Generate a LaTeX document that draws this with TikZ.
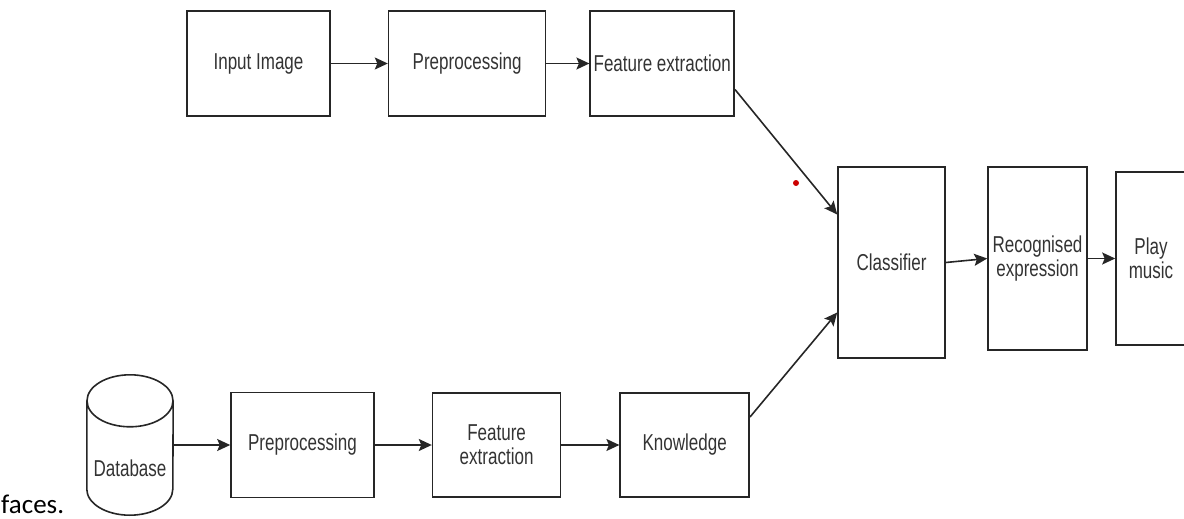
\documentclass[tikz,border=0pt]{standalone}
\usepackage{fontspec}
\setmainfont{Liberation Sans}[FakeStretch=0.74]
\newfontfamily\capfont{Carlito}
\usepackage{xcolor}
\usepackage{tikz}
\usetikzlibrary{shapes.geometric, arrows.meta, positioning, calc}

\newcommand{\lbl}{\fontsize{23}{24}\selectfont}

\begin{document}
\begin{tikzpicture}[
    x=1pt, y=-1pt,
    block/.style={rectangle, draw=black!85, line width=1.6pt, inner sep=0pt, align=center, text=black!80, font=\lbl},
    flow/.style={-{Stealth[length=13pt, width=12pt, inset=2.5pt]}, line width=1.6pt, draw=black!85},
]
\useasboundingbox (0,0) rectangle (1184,519);

% Upper row
\node (inimg) [block, minimum width=143pt, minimum height=105pt] at (258.5,63.5) {Input Image};
\node (preA) [block, right=57pt of inimg, minimum width=157pt, minimum height=105pt] {Preprocessing};
\node (featA) [block, right=43pt of preA, minimum width=144pt, minimum height=105pt] {Feature extraction};

% Lower row
\node (db) [rectangle, minimum width=86pt, minimum height=140pt, inner sep=0pt,
    label={[text=black!80, font=\lbl, yshift=-23pt]center:Database}] at (130,445) {};
\draw [draw=black!85, line width=1.6pt]
    ([yshift=-26pt]db.north west) -- ([yshift=26pt]db.south west)
    arc [start angle=180, end angle=360, x radius=43pt, y radius=26pt]
    -- ([yshift=-26pt]db.north east)
    ([yshift=-26pt]db.north) ellipse [x radius=43pt, y radius=26pt];
\node (preB) [block, right=57pt of db, minimum width=143pt, minimum height=105pt] {Preprocessing};
\node (featB) [block, right=57pt of preB, minimum width=128pt, minimum height=104pt] {Feature\\extraction};
\node (know) [block, right=58pt of featB, minimum width=129pt, minimum height=104pt] {Knowledge};

% Right part
\node (clf) [block, minimum width=107pt, minimum height=191pt] at (891.5,262.5) {Classifier};
\node (recog) [block, minimum width=99pt, minimum height=183pt] at (1037.5,258.5) {Recognised\\expression};
\node (music) [block, minimum width=70pt, minimum height=173pt] at (1151,258.5) {Play\\music};

% Caption fragment and dot
\node (faces) [anchor=base west, inner sep=0pt, font=\capfont\fontsize{27}{30}\selectfont] at (1,513) {faces.};
\fill [red!80!black] (796,183) circle (3pt);

% Arrows
\draw [flow] (inimg) -- (preA);
\draw [flow] (preA) -- (featA);
\draw [flow] ([yshift=-26pt]featA.east) -- ([yshift=48pt]clf.west);
\draw [flow] (db) -- (preB);
\draw [flow] (preB) -- (featB);
\draw [flow] (featB) -- (know);
\draw [flow] ([yshift=28pt]know.east) -- ([yshift=-50pt]clf.west);
\draw [flow] (clf.east) -- (recog.west);
\draw [flow] (recog) -- (music);

\end{tikzpicture}
\end{document}
